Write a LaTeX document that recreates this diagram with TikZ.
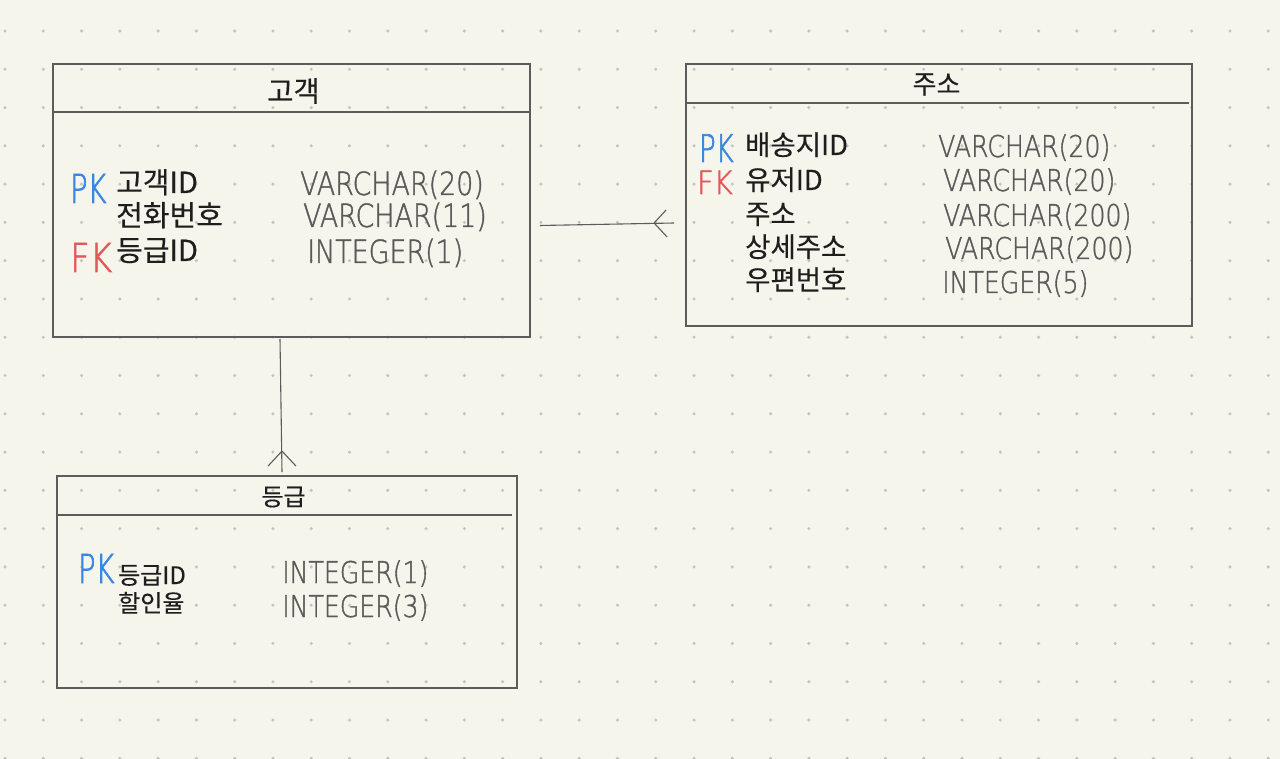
\documentclass[tikz,border=0pt]{standalone}
\usepackage{fontspec}
\setmainfont{Noto Sans CJK KR}[FakeBold=0.3]
\newfontfamily\handfont[FakeStretch=0.84,FakeBold=1.2]{DejaVu Sans ExtraLight}
\newfontfamily\keyfont[FakeStretch=0.72,FakeBold=1.6]{DejaVu Sans ExtraLight}
\usetikzlibrary{calc}
\definecolor{bgc}{HTML}{F6F5EC}
\definecolor{dotc}{HTML}{C4C4BE}
\definecolor{linec}{HTML}{5C5C5C}
\definecolor{handc}{HTML}{5A5A5A}
\definecolor{pkc}{HTML}{3B86E3}
\definecolor{fkc}{HTML}{E0595A}
\definecolor{txtc}{HTML}{1E1E1E}
\tikzset{
  ent/.style={draw=linec, line width=1.8pt, rectangle, inner sep=0pt},
  hdr/.style={draw=linec, line width=1.6pt},
  conn/.style={draw=linec, line width=1.1pt},
  ttl/.style={text=txtc, inner sep=0pt},
  attr/.style={text=txtc, inner sep=0pt, anchor=base west},
  typ/.style={text=handc, inner sep=0pt, anchor=base west, text height=23pt, text depth=0pt},
  keyb/.style={inner sep=0pt, anchor=base west, text height=26pt, text depth=0pt},
  pk/.style={keyb, font=\keyfont\fontsize{40}{42}\selectfont, text=pkc},
  fk/.style={keyb, font=\keyfont\fontsize{40}{42}\selectfont, text=fkc},
}
\newcommand{\fsA}{\fontsize{29}{32}\selectfont}
\newcommand{\fsB}{\fontsize{27.5}{30}\selectfont}
\newcommand{\fsC}{\fontsize{24}{27}\selectfont}
\newcommand{\hsA}{\handfont\fontsize{32}{34}\selectfont}
\newcommand{\hsB}{\handfont\fontsize{30}{32}\selectfont}
\begin{document}
\begin{tikzpicture}[x=1pt, y=-1pt]
\fill[bgc] (0,0) rectangle (1280,759);
\useasboundingbox (0,0) rectangle (1280,759);
% dot grid
\foreach \i in {0,...,33} {
  \foreach \j in {0,...,19} {
    \fill[dotc] ({5+\i*38.28},{31+\j*38.28}) circle (1.7pt);
  }
}
% entity boxes
\node[ent, minimum width=477pt, minimum height=273pt] (cust) at (291.5,200.5) {};
\node[ent, minimum width=506pt, minimum height=262pt] (addr) at (939,195) {};
\node[ent, minimum width=460pt, minimum height=212pt] (grade) at (287,582) {};
% header separators
\draw[hdr] ($(cust.north west)+(0,49)$) -- ($(cust.north east)+(0,49)$);
\draw[hdr] ($(addr.north west)+(0,40)$) -- ($(addr.north east)+(-4,40)$);
\draw[hdr] ($(grade.north west)+(0,40)$) -- ($(grade.north east)+(-6,40)$);
% titles
\node[ttl, font=\fontsize{28.5}{31}\selectfont] (custT) at (293.5,91) {고객};
\node[ttl, font=\fontsize{26}{29}\selectfont] (addrT) at (936.5,84.5) {주소};
\node[ttl, font=\fontsize{24}{27}\selectfont] (gradeT) at (283.5,497) {등급};
% customer rows
\node[pk] (cpk) at (70,203) {PK};
\node[fk, font=\keyfont\fontsize{40}{42}\selectfont\addfontfeature{FakeStretch=0.85}] (cfk) at (70,272) {FK};
\node[attr, font=\fsA] (c1) at (116,193) {고객ID};
\node[attr, font=\fsA] (c2) at (116,226) {전화번호};
\node[attr, font=\fsA] (c3) at (116,261) {등급ID};
\node[typ, font=\hsA] (ct1) at (300,195) {VARCHAR(20)};
\node[typ, font=\hsA] (ct2) at (303,227) {VARCHAR(11)};
\node[typ, font=\hsA] (ct3) at (307,263) {INTEGER(1)};
% address rows
\node[pk, text height=24pt, font=\keyfont\fontsize{38}{40}\selectfont] (apk) at (699,162) {PK};
\node[keyb, text height=20pt, text=fkc, font=\keyfont\fontsize{32}{34}\selectfont\addfontfeature{FakeStretch=0.9}] (afk) at (697,194) {FK};
\node[attr, font=\fsB] (a1) at (745,155) {배송지ID};
\node[attr, font=\fsB] (a2) at (745,190) {유저ID};
\node[attr, font=\fsB] (a3) at (745,224) {주소};
\node[attr, font=\fsB] (a4) at (745,257) {상세주소};
\node[attr, font=\fsB] (a5) at (745,290) {우편번호};
\node[typ, font=\hsB] (at1) at (938,157) {VARCHAR(20)};
\node[typ, font=\hsB] (at2) at (943,191) {VARCHAR(20)};
\node[typ, font=\hsB] (at3) at (943,226) {VARCHAR(200)};
\node[typ, font=\hsB] (at4) at (945,259) {VARCHAR(200)};
\node[typ, font=\hsB] (at5) at (942,293) {INTEGER(5)};
% grade rows
\node[pk] (gpk) at (78,583) {PK};
\node[attr, font=\fsC] (g1) at (118,584) {등급ID};
\node[attr, font=\fsC] (g2) at (118,612) {할인율};
\node[typ, font=\hsB] (gt1) at (282,583) {INTEGER(1)};
\node[typ, font=\hsB] (gt2) at (282,617) {INTEGER(3)};
% connectors
\coordinate (hy1) at (0,225.5);
\coordinate (hy2) at (0,223);
\coordinate (vx1) at (280,0);
\coordinate (vx2) at (282,0);
\coordinate (hA) at ($(cust.east |- hy1)+(9,0)$);
\coordinate (hB) at ($(addr.west |- hy2)+(-11,0)$);
\draw[conn] (hA) -- (hB);
\draw[conn] ($(hB)+(-20,0)$) -- ++(12,-13);
\draw[conn] ($(hB)+(-20,0)$) -- ++(13,14);
\coordinate (vA) at ($(cust.south -| vx1)+(0,1)$);
\coordinate (vB) at ($(grade.north -| vx2)+(0,-3)$);
\draw[conn] (vA) -- (vB);
\draw[conn] ($(vB)+(0,-21)$) -- ++(-14,15);
\draw[conn] ($(vB)+(0,-21)$) -- ++(14,15);
\end{tikzpicture}
\end{document}
